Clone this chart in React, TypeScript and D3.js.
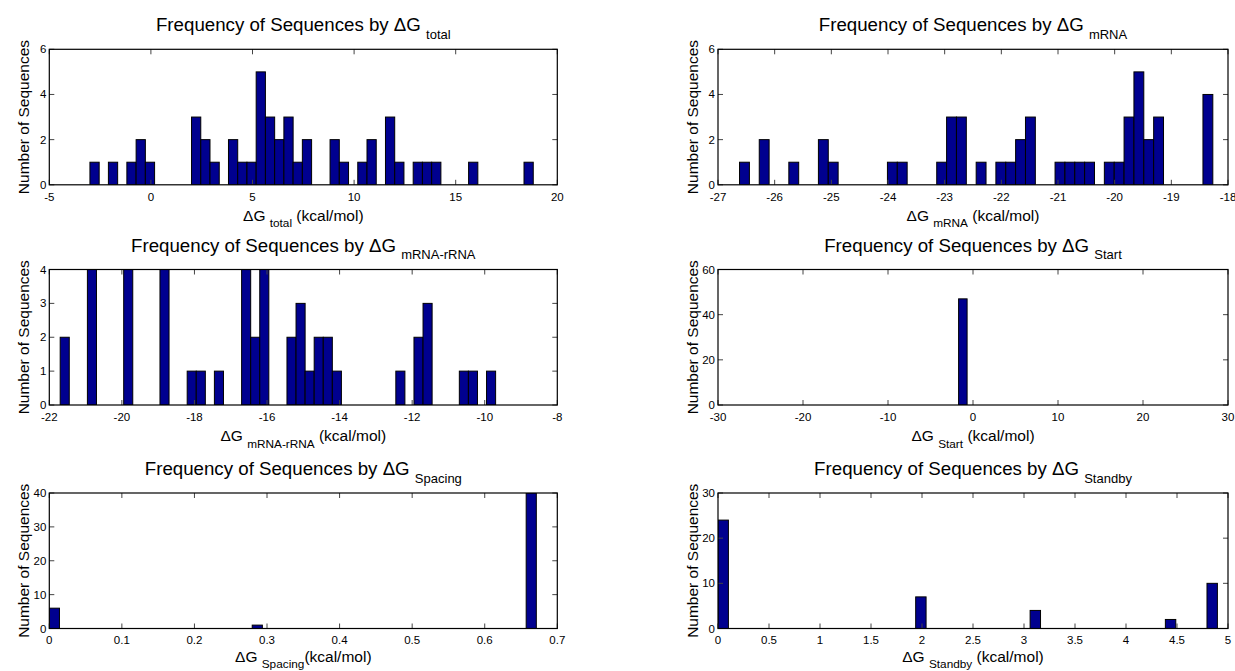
import React from 'react';
import * as d3 from 'd3';

// ---------- data ----------
const totalCenters = [-2.773, -1.864, -0.955, -0.5, -0.046, 2.227, 2.681, 3.136, 4.045, 4.499, 4.954, 5.408, 5.863, 6.317, 6.772, 7.226, 7.681, 9.044, 9.499, 10.408, 10.862, 11.771, 12.226, 13.135, 13.589, 14.044, 15.862, 18.589];
const totalCounts = [1, 1, 1, 2, 1, 3, 2, 1, 2, 1, 1, 5, 3, 2, 3, 1, 2, 2, 1, 1, 2, 3, 1, 1, 1, 1, 1, 1];
const totalBinWidth = 0.4545;

const mrnaCenters = [-26.533, -26.185, -25.663, -25.141, -24.967, -23.923, -23.749, -23.053, -22.879, -22.705, -22.357, -22.009, -21.835, -21.661, -21.487, -20.965, -20.791, -20.617, -20.443, -20.095, -19.921, -19.747, -19.573, -19.399, -19.225, -18.355];
const mrnaCounts = [1, 2, 1, 2, 1, 1, 1, 1, 3, 3, 1, 1, 1, 2, 3, 1, 1, 1, 1, 1, 1, 3, 5, 2, 3, 4];
const mrnaBinWidth = 0.174;

const rrnaCenters = [-21.575, -20.825, -19.825, -18.825, -18.075, -17.825, -17.325, -16.575, -16.325, -16.075, -15.325, -15.075, -14.825, -14.575, -14.325, -14.075, -12.325, -11.825, -11.575, -10.575, -10.325, -9.825];
const rrnaCounts = [2, 4, 4, 4, 1, 1, 1, 4, 2, 4, 2, 3, 1, 2, 2, 1, 1, 2, 3, 1, 1, 1];
const rrnaBinWidth = 0.25;

const startCenters = [-1.194];
const startCounts = [47];
const startBinWidth = 1;

const spacingCenters = [0.007, 0.2866, 0.6641];
const spacingCounts = [6, 1, 40];
const spacingBinWidth = 0.01398;

const standbyCenters = [0.051, 1.989, 3.111, 4.437, 4.845];
const standbyCounts = [24, 7, 4, 2, 10];
const standbyBinWidth = 0.102;

const totalXTicks = [-5, 0, 5, 10, 15, 20];
const mrnaXTicks = [-27, -26, -25, -24, -23, -22, -21, -20, -19, -18];
const rrnaXTicks = [-22, -20, -18, -16, -14, -12, -10, -8];
const startXTicks = [-30, -20, -10, 0, 10, 20, 30];
const spacingXTicks = [0, 0.1, 0.2, 0.3, 0.4, 0.5, 0.6, 0.7];
const standbyXTicks = [0, 0.5, 1, 1.5, 2, 2.5, 3, 3.5, 4, 4.5, 5];

const totalYTicks = [0, 2, 4, 6];
const mrnaYTicks = [0, 2, 4, 6];
const rrnaYTicks = [0, 1, 2, 3, 4];
const startYTicks = [0, 20, 40, 60];
const spacingYTicks = [0, 10, 20, 30, 40];
const standbyYTicks = [0, 10, 20, 30];

const subscripts = ['total', 'mRNA', 'mRNA-rRNA', 'Start', 'Spacing', 'Standby'];

// ---------- layout ----------
const W = 1235;
const H = 671;
const FONT = "'Liberation Sans', Arial, Helvetica, sans-serif";
const BAR = '#00008F';
const COL_X = [[49.3, 557.3], [718, 1228]];
const ROW_TOP = [49.3, 269.5, 493];
const PANEL_H = 135.5;
const TICK_FS = 11.5;
const LABEL_FS = 15.5;
const LABEL_SUB_FS = 11.8;
const TITLE_FS = 18.7;
const TITLE_SUB_FS = 13;
const XLABEL_OFFSET = [36.4, 36.4, 33];

const panels = [
  { centers: totalCenters, counts: totalCounts, bw: totalBinWidth, xd: [-5, 20], yd: [0, 6], xt: totalXTicks, yt: totalYTicks, sub: subscripts[0], gap: true },
  { centers: mrnaCenters, counts: mrnaCounts, bw: mrnaBinWidth, xd: [-27, -18], yd: [0, 6], xt: mrnaXTicks, yt: mrnaYTicks, sub: subscripts[1], gap: true },
  { centers: rrnaCenters, counts: rrnaCounts, bw: rrnaBinWidth, xd: [-22, -8], yd: [0, 4], xt: rrnaXTicks, yt: rrnaYTicks, sub: subscripts[2], gap: true },
  { centers: startCenters, counts: startCounts, bw: startBinWidth, xd: [-30, 30], yd: [0, 60], xt: startXTicks, yt: startYTicks, sub: subscripts[3], gap: true },
  { centers: spacingCenters, counts: spacingCounts, bw: spacingBinWidth, xd: [0, 0.7], yd: [0, 40], xt: spacingXTicks, yt: spacingYTicks, sub: subscripts[4], gap: false },
  { centers: standbyCenters, counts: standbyCounts, bw: standbyBinWidth, xd: [0, 5], yd: [0, 30], xt: standbyXTicks, yt: standbyYTicks, sub: subscripts[5], gap: true },
];

function Panel({ p, i }: { p: any; i: number }) {
  const col = i % 2;
  const row = Math.floor(i / 2);
  const [x0, x1] = COL_X[col];
  const top = ROW_TOP[row];
  const bottom = top + PANEL_H;
  const x = d3.scaleLinear().domain(p.xd).range([x0, x1]);
  const y = d3.scaleLinear().domain(p.yd).range([bottom, top]);
  const cx = (x0 + x1) / 2;
  const cy = (top + bottom) / 2;
  const clipId = `clip${i}`;
  const tl = 5;
  const tickColor = '#444';
  const subDyT = TITLE_FS * 0.42;
  const subDyL = LABEL_FS * 0.4;
  return (
    <g>
      <defs>
        <clipPath id={clipId}>
          <rect x={x0} y={top} width={x1 - x0} height={bottom - top} />
        </clipPath>
      </defs>
      <g clipPath={`url(#${clipId})`}>
        {p.centers.map((c: number, k: number) => {
          const xl = x(c - p.bw / 2);
          const xr = x(c + p.bw / 2);
          const yt = y(p.counts[k]);
          return (
            <rect key={k} x={xl} y={yt} width={xr - xl} height={y(0) - yt}
              fill={BAR} stroke="#000" strokeWidth={1} />
          );
        })}
      </g>
      {/* ticks inside on all four sides */}
      {p.xt.map((t: number, k: number) => (
        <g key={'xt' + k}>
          <line x1={x(t)} x2={x(t)} y1={bottom} y2={bottom - tl} stroke={tickColor} strokeWidth={1} />
          <line x1={x(t)} x2={x(t)} y1={top} y2={top + tl} stroke={tickColor} strokeWidth={1} />
          <text x={x(t)} y={bottom + 15.7} textAnchor="middle" fontSize={TICK_FS} fontFamily={FONT} fill="#000">{String(t)}</text>
        </g>
      ))}
      {p.yt.map((t: number, k: number) => (
        <g key={'yt' + k}>
          <line x1={x0} x2={x0 + tl} y1={y(t)} y2={y(t)} stroke={tickColor} strokeWidth={1} />
          <line x1={x1} x2={x1 - tl} y1={y(t)} y2={y(t)} stroke={tickColor} strokeWidth={1} />
          <text x={x0 - 3} y={y(t) + 4} textAnchor="end" fontSize={TICK_FS} fontFamily={FONT} fill="#000">{String(t)}</text>
        </g>
      ))}
      <rect x={x0} y={top} width={x1 - x0} height={bottom - top} fill="none" stroke="#000" strokeWidth={1.2} />
      {/* title */}
      <text x={cx} y={top - 18} textAnchor="middle" fontSize={TITLE_FS} fontFamily={FONT} fill="#000">
        {'Frequency of Sequences by \u0394G '}
        <tspan fontSize={TITLE_SUB_FS} dy={subDyT}>{p.sub}</tspan>
      </text>
      {/* x label */}
      <text x={cx} y={bottom + XLABEL_OFFSET[row]} textAnchor="middle" fontSize={LABEL_FS} fontFamily={FONT} fill="#000">
        {'\u0394G '}
        <tspan fontSize={LABEL_SUB_FS} dy={subDyL}>{p.sub}</tspan>
        <tspan dy={-subDyL}>{p.gap ? ' (kcal/mol)' : '(kcal/mol)'}</tspan>
      </text>
      {/* y label */}
      <text transform={`translate(${x0 - 20.5},${cy}) rotate(-90)`} textAnchor="middle" fontSize={LABEL_FS} fontFamily={FONT} fill="#000">
        Number of Sequences
      </text>
    </g>
  );
}

export default function App() {
  return (
    <svg width={W} height={H} viewBox={`0 0 ${W} ${H}`}
      style={{ position: 'absolute', left: 0, top: 0, background: '#fff', display: 'block' }}>
      <rect x={0} y={0} width={W} height={H} fill="#fff" />
      {panels.map((p, i) => <Panel key={i} p={p} i={i} />)}
    </svg>
  );
}
